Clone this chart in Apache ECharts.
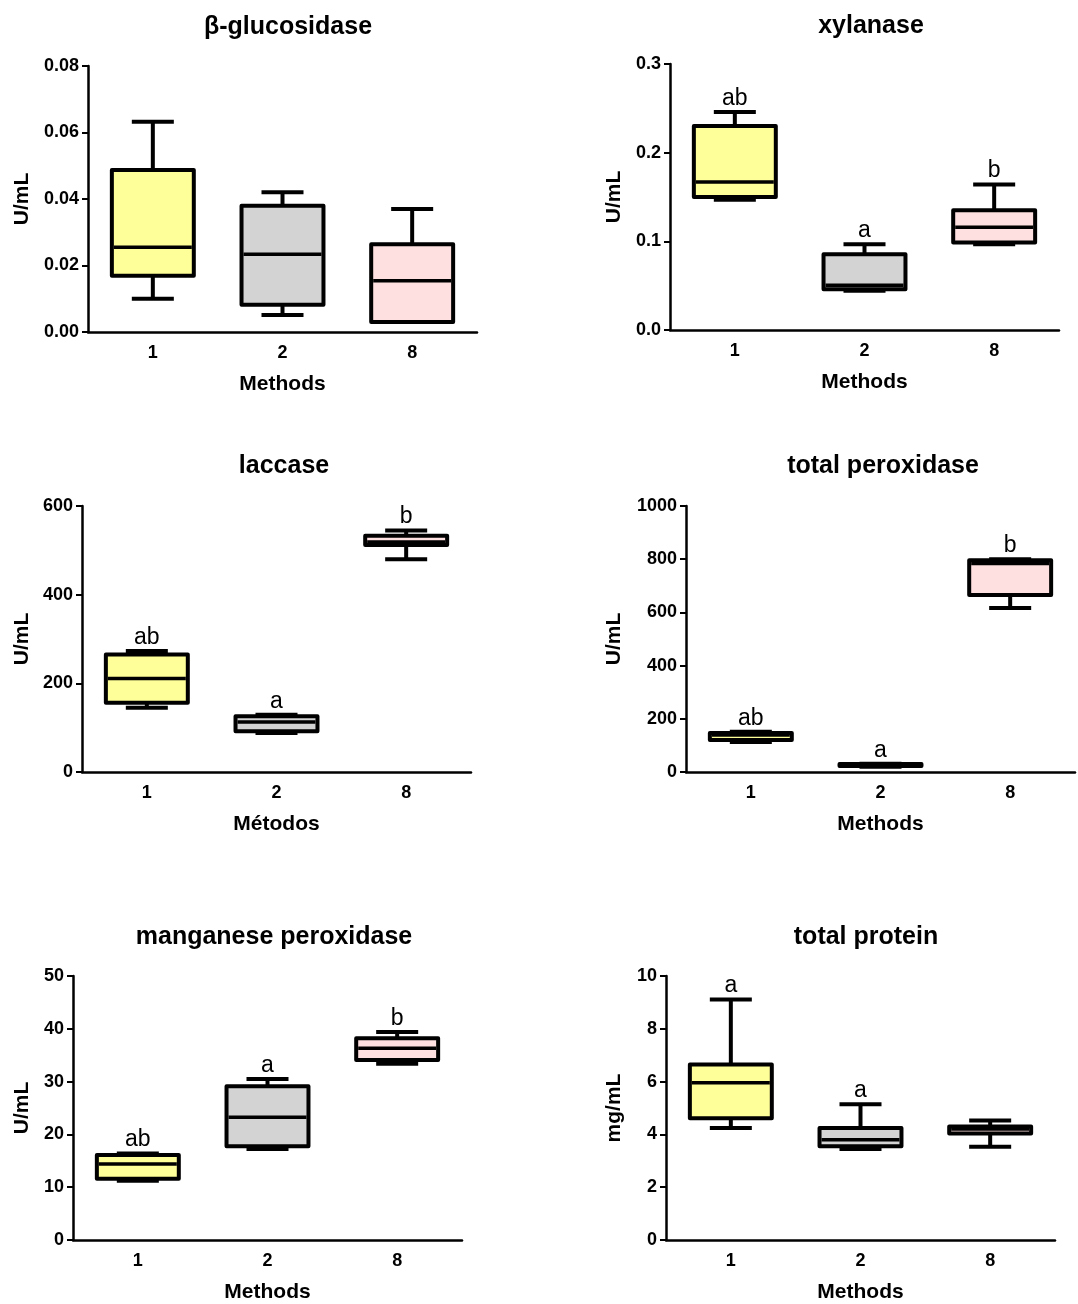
<!DOCTYPE html>
<html>
<head>
<meta charset="utf-8">
<script src="https://cdn.jsdelivr.net/npm/echarts@6/dist/echarts.min.js"></script>
<style>
  html, body { margin: 0; padding: 0; background: #fff; }
  #main { width: 1078px; height: 1304px; }
</style>
</head>
<body>
<div id="main"></div>
<script>
// categories
var methods = ['1', '2', '8'];

// each box: [min, Q1, median, Q3, max]
var glucosidase = [[0.010, 0.0169, 0.0255, 0.0487, 0.0632], [0.0051, 0.0082, 0.0234, 0.0380, 0.0420], [0.0030, 0.0030, 0.0154, 0.0264, 0.0370]];
var xylanase = [[0.147, 0.150, 0.167, 0.230, 0.246], [0.0442, 0.046, 0.0506, 0.0855, 0.0967], [0.0967, 0.0986, 0.116, 0.135, 0.164]];
var laccase = [[145, 156, 211, 265, 273], [88, 92, 113, 126, 129], [480, 512, 519, 533, 545]];
var totalPeroxidase = [[113, 120, 139, 147, 151], [20, 23, 27, 30, 31], [617, 665, 784, 796, 800]];
var mnPeroxidase = [[11.2, 11.6, 14.4, 16.1, 16.4], [17.25, 17.75, 23.25, 29.1, 30.5], [33.4, 34.1, 36.3, 38.2, 39.4]];
var totalProtein = [[4.24, 4.61, 5.96, 6.65, 9.11], [3.45, 3.55, 3.80, 4.24, 5.14], [3.53, 4.03, 4.20, 4.30, 4.53]];

// significance letters
var glucosidaseLetters = ['', '', ''];
var xylanaseLetters = ['ab', 'a', 'b'];
var laccaseLetters = ['ab', 'a', 'b'];
var totalPeroxidaseLetters = ['ab', 'a', 'b'];
var mnPeroxidaseLetters = ['ab', 'a', 'b'];
var totalProteinLetters = ['a', 'a', ''];

var boxColors = ['#ffff99', '#d3d3d3', '#ffe0e0'];
var FONT = 'Liberation Sans, Arial, sans-serif';

var panels = [
  { title: 'β-glucosidase', data: glucosidase, letters: glucosidaseLetters, max: 0.08, interval: 0.02, dec: 2,
    left: 88, top: 66, tx: 283, ty: 10, xname: 'Methods', yname: 'U/mL', ygap: 55 },
  { title: 'xylanase', data: xylanase, letters: xylanaseLetters, max: 0.3, interval: 0.1, dec: 1,
    left: 670, top: 64, tx: 866, ty: 9, xname: 'Methods', yname: 'U/mL', ygap: 45 },
  { title: 'laccase', data: laccase, letters: laccaseLetters, max: 600, interval: 200, dec: 0,
    left: 82, top: 506, tx: 279, ty: 449, xname: 'Métodos', yname: 'U/mL', ygap: 49 },
  { title: 'total peroxidase', data: totalPeroxidase, letters: totalPeroxidaseLetters, max: 1000, interval: 200, dec: 0,
    left: 686, top: 506, tx: 878, ty: 449, xname: 'Methods', yname: 'U/mL', ygap: 61 },
  { title: 'manganese peroxidase', data: mnPeroxidase, letters: mnPeroxidaseLetters, max: 50, interval: 10, dec: 0,
    left: 73, top: 976, tx: 269, ty: 920, xname: 'Methods', yname: 'U/mL', ygap: 40 },
  { title: 'total protein', data: totalProtein, letters: totalProteinLetters, max: 10, interval: 2, dec: 0,
    left: 666, top: 976, tx: 861, ty: 920, xname: 'Methods', yname: 'mg/mL', ygap: 41 }
];

// box with narrow whisker caps, drawn from the axis scales
function makeRenderer(letters) {
  return function (params, api) {
    var x = api.value(0);
    var band = api.size([1, 0])[0];
    var bw = band * 0.632, cw = band * 0.324;
    var pMin = api.coord([x, api.value(1)]);
    var pQ1 = api.coord([x, api.value(2)]);
    var pMed = api.coord([x, api.value(3)]);
    var pQ3 = api.coord([x, api.value(4)]);
    var pMax = api.coord([x, api.value(5)]);
    var cx = pMed[0];
    var ln = { stroke: '#000', lineWidth: 4, lineCap: 'butt' };
    var children = [
      { type: 'line', shape: { x1: cx, y1: pQ3[1], x2: cx, y2: pMax[1] }, style: ln },
      { type: 'line', shape: { x1: cx - cw / 2, y1: pMax[1], x2: cx + cw / 2, y2: pMax[1] }, style: ln },
      { type: 'line', shape: { x1: cx, y1: pQ1[1], x2: cx, y2: pMin[1] }, style: ln },
      { type: 'line', shape: { x1: cx - cw / 2, y1: pMin[1], x2: cx + cw / 2, y2: pMin[1] }, style: ln },
      { type: 'rect', shape: { x: cx - bw / 2, y: pQ3[1], width: bw, height: pQ1[1] - pQ3[1] },
        style: { fill: boxColors[params.dataIndex], stroke: '#000', lineWidth: 4, lineJoin: 'round' } },
      { type: 'line', shape: { x1: cx - bw / 2 + 2, y1: pMed[1], x2: cx + bw / 2 - 2, y2: pMed[1] },
        style: { stroke: '#000', lineWidth: 3.5 } }
    ];
    var letter = letters[params.dataIndex];
    if (letter) {
      children.push({ type: 'text', style: { text: letter, x: cx, y: pMax[1] - 2,
        align: 'center', verticalAlign: 'bottom', font: '23px ' + FONT, fill: '#000' } });
    }
    return { type: 'group', children: children };
  };
}

var option = { animation: false, backgroundColor: '#fff', title: [], grid: [], xAxis: [], yAxis: [], series: [] };

panels.forEach(function (p, i) {
  option.title.push({
    text: p.title, left: p.tx, top: p.ty, textAlign: 'center',
    textStyle: { fontFamily: FONT, fontSize: 25, fontWeight: 'bold', color: '#000' }
  });
  option.grid.push({ left: p.left, top: p.top, width: 389, height: 266 });
  option.xAxis.push({
    gridIndex: i, type: 'category', data: methods,
    name: p.xname, nameLocation: 'middle', nameGap: 42,
    nameTextStyle: { fontFamily: FONT, fontSize: 21, fontWeight: 'bold', color: '#000' },
    axisLine: { lineStyle: { color: '#000', width: 2.5 } },
    axisTick: { alignWithLabel: true, length: 6, lineStyle: { color: '#000', width: 2 } },
    axisLabel: { margin: 12, fontFamily: FONT, fontSize: 18, fontWeight: 'bold', color: '#000' },
    splitLine: { show: false }
  });
  option.yAxis.push({
    gridIndex: i, type: 'value', min: 0, max: p.max, interval: p.interval,
    name: p.yname, nameLocation: 'middle', nameRotate: 90, nameGap: p.ygap,
    nameTextStyle: { fontFamily: FONT, fontSize: 21, fontWeight: 'bold', color: '#000' },
    axisLine: { show: true, lineStyle: { color: '#000', width: 2.5 } },
    axisTick: { show: true, length: 6, lineStyle: { color: '#000', width: 2 } },
    axisLabel: { margin: 9, fontFamily: FONT, fontSize: 18, fontWeight: 'bold', color: '#000',
      formatter: (function (dec) { return function (v) { return v.toFixed(dec); }; })(p.dec) },
    splitLine: { show: false }
  });
  option.series.push({
    type: 'custom', xAxisIndex: i, yAxisIndex: i, clip: false,
    renderItem: makeRenderer(p.letters),
    encode: { x: 0, y: [1, 2, 3, 4, 5] },
    data: p.data.map(function (d, k) { return [k].concat(d); })
  });
});

var chart = echarts.init(document.getElementById('main'));
chart.setOption(option);
</script>
</body>
</html>
